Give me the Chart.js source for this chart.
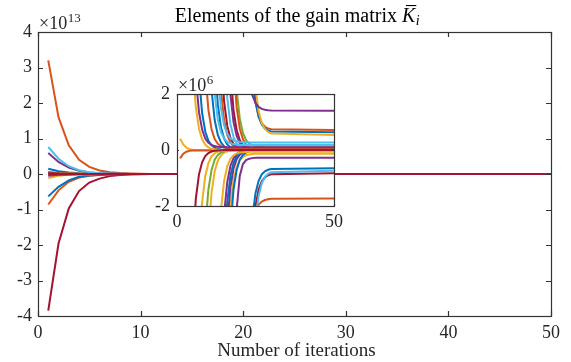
<!DOCTYPE html>
<html>
<head>
<meta charset="utf-8">
<script src="https://cdn.jsdelivr.net/npm/chart.js@4.4.1/dist/chart.umd.min.js"></script>
<style>
  html, body { margin: 0; padding: 0; background: #fff; }
  #wrap { position: relative; width: 571px; height: 362px; }
  #mainChart { position: absolute; left: 0; top: 0; }
  #insetChart { position: absolute; left: 150px; top: 66px; }
</style>
</head>
<body>
<div id="wrap">
  <canvas id="mainChart" width="571" height="362"></canvas>
  <canvas id="insetChart" width="200" height="164"></canvas>
</div>
<script>
// iterations (x) and the gain elements, all values in units of 10^6
const iterations = [1,2,3,4,5,6,7,8,9,10,11,12,13,14,15,16,17,18,19,20,21,22,23,24,25,26,27,28,29,30,50];

const k01 = [48.5,24.2,12.1,6.06,3.03,1.52,0.76,0.38,0.19,0.095,0.048,0.024,0.012,0.006,0,0,0,0,0,0,0,0,0,0,0,0,0,0,0,0,0];
const k02 = [80.1,40.1,20.1,10.1,5.1,2.6,1.35,0.73,0.41,0.26,0.18,0.14,0.12,0.11,0.105,0.1,0.1,0.1,0.1,0.1,0.1,0.1,0.1,0.1,0.1,0.1,0.1,0.1,0.1,0.1,0.1];
const k03 = [169,84.4,42.2,21.1,10.6,5.28,2.64,1.32,0.66,0.33,0.165,0.083,0.041,0.021,0.01,0.005,0,0,0,0,0,0,0,0,0,0,0,0,0,0,0];
const k04 = [706,353,177,88,44,22,11.05,5.55,2.81,1.43,0.74,0.39,0.22,0.14,0.09,0.07,0.06,0.055,0.05,0.05,0.05,0.05,0.05,0.05,0.05,0.05,0.05,0.05,0.05,0.05,0.05];
const k05 = [2190,1100,548,274,137,68,34,17,8.6,4.3,2.14,1.07,0.54,0.27,0.13,0.067,0.033,0.017,0.008,0,0,0,0,0,0,0,0,0,0,0,0];
const k06 = [3730,1860,932,466,233,116,58,29.2,14.8,7.5,3.82,2.0,1.09,0.64,0.41,0.29,0.24,0.21,0.19,0.185,0.18,0.18,0.18,0.18,0.18,0.18,0.18,0.18,0.18,0.18,0.18];
const k07 = [6660,3330,1660,832,416,208,104,52,26,13,6.5,3.25,1.62,0.81,0.41,0.2,0.1,0.05,0.025,0.013,0.006,0,0,0,0,0,0,0,0,0,0];
const k08 = [10000,5020,2510,1250,627,314,157,78,39.3,19.9,10.1,5.17,2.72,1.49,0.88,0.58,0.42,0.35,0.31,0.29,0.28,0.275,0.27,0.27,0.27,0.27,0.27,0.27,0.27,0.27,0.27];
const k09 = [17500,8770,4380,2190,1100,548,274,137,68,34,17,8.6,4.3,2.14,1.07,0.54,0.27,0.13,0.067,0.033,0.017,0.008,0,0,0,0,0,0,0,0,0];
const k10 = [28500,14300,7130,3560,1780,891,446,223,111,56,28,14,7,3.48,1.74,0.87,0.44,0.22,0.11,0.054,0.027,0.014,0.007,0,0,0,0,0,0,0,0];
const k11 = [7600000,4300000,2200000,1050000,500000,240000,117000,58000,29000,7000,1700,400,60,9,3.73,1.87,0.93,0.47,0.23,0.12,0.06,0.03,0.015,0.007,0,0,0,0,0,0,0];
const k12 = [131000,65500,32800,16400,8190,4100,2050,1020,512,256,128,64,32,16,8,4,2,1,0.5,0.25,0.125,0.063,0.031,0.016,0.008,0,0,0,0,0,0];
const k13 = [185000,92700,46300,23200,11600,5790,2900,1450,724,362,181,90,45,22.6,11.3,5.66,2.83,1.41,0.71,0.35,0.18,0.088,0.044,0.022,0.011,0.005,0,0,0,0,0];
const k14 = [397000,199000,99300,49700,24800,12400,6210,3100,1550,776,388,194,97,48.5,24.3,12.1,6.06,3.03,1.52,0.76,0.38,0.19,0.095,0.047,0.024,0.012,0.006,0,0,0,0];
const k15 = [534000,267000,133000,66700,33400,16700,8340,4170,2080,1040,521,261,130,65,32.7,16.4,8.2,4.17,2.14,1.12,0.61,0.35,0.23,0.164,0.132,0.116,0.108,0.1,0.1,0.1,0.1];
const k16 = [5900000,3400000,1800000,900000,440000,200000,95000,42000,18300,9170,4590,2290,1150,574,288,144,73.4,37.4,19.4,10.4,5.88,3.64,2.52,1.96,1.68,1.54,1.47,1.435,1.418,1.409,1.4];
const k17 = [400000,240000,144000,86400,51800,31100,18700,11200,6720,4030,2420,1450,871,523,314,188,113,68.2,41.1,24.9,15.1,9.3,5.84,3.89,2.22,1.38,0.96,0.75,0.645,0.593,0.54];
const k18 = [32000000,16000000,8100000,4000000,2000000,1000000,500000,250000,125000,62000,31000,15500,7700,3850,1900,950,470,230,114,56.7,24.7,10.2,4.63,2.67,1.69,1.2,0.955,0.83,0.771,0.741,0.71];
const k19 = [1500000,800000,400000,200000,113000,64000,36000,20500,11600,6550,3700,2090,1180,667,377,213,120,68.6,39.1,22.3,12.9,7.5,4.53,2.85,1.74,1.19,0.91,0.77,0.70,0.665,0.63];
const k20 = [-56,-28,-14,-7,-3.48,-1.74,-0.87,-0.44,-0.22,-0.11,-0.054,-0.027,-0.014,-0.007,0,0,0,0,0,0,0,0,0,0,0,0,0,0,0,0,0];
const k21 = [-239,-120,-60,-30,-15,-7.5,-3.73,-1.87,-0.93,-0.47,-0.23,-0.12,-0.058,-0.029,-0.015,-0.007,0,0,0,0,0,0,0,0,0,0,0,0,0,0,0];
const k22 = [-724,-362,-181,-90,-45,-22.6,-11.3,-5.66,-2.83,-1.41,-0.71,-0.35,-0.18,-0.088,-0.044,-0.022,-0.011,-0.005,0,0,0,0,0,0,0,0,0,0,0,0,0];
const k23 = [-1550,-776,-388,-194,-97,-48.5,-24.3,-12.1,-6.06,-3.03,-1.52,-0.76,-0.38,-0.19,-0.095,-0.047,-0.024,-0.012,-0.006,0,0,0,0,0,0,0,0,0,0,0,0];
const k24 = [-17000,-8520,-4260,-2130,-1060,-532,-266,-133,-66.6,-33.3,-16.7,-8.4,-4.22,-2.14,-1.1,-0.58,-0.32,-0.19,-0.125,-0.092,-0.076,-0.068,-0.064,-0.06,-0.06,-0.06,-0.06,-0.06,-0.06,-0.06,-0.06];
const k25 = [-37600,-18800,-9410,-4700,-2350,-1180,-588,-294,-147,-73.5,-36.8,-18.4,-9.2,-4.6,-2.3,-1.15,-0.57,-0.29,-0.14,-0.072,-0.036,-0.018,-0.009,0,0,0,0,0,0,0,0];
const k26 = [-61100,-30600,-15300,-7640,-3820,-1910,-955,-478,-239,-120,-60,-30,-15,-7.5,-3.73,-1.87,-0.93,-0.47,-0.23,-0.12,-0.058,-0.029,-0.015,-0.007,0,0,0,0,0,0,0];
const k27 = [-86500,-43200,-21600,-10800,-5400,-2700,-1350,-676,-338,-169,-84.4,-42.2,-21.1,-10.6,-5.28,-2.64,-1.32,-0.66,-0.33,-0.165,-0.083,-0.041,-0.021,-0.01,-0.005,0,0,0,0,0,0];
const k28 = [-185000,-92700,-46300,-23200,-11600,-5790,-2900,-1450,-724,-362,-181,-90.5,-45.3,-22.6,-11.3,-5.66,-2.83,-1.41,-0.71,-0.35,-0.18,-0.088,-0.044,-0.022,-0.011,-0.005,0,0,0,0,0];
const k29 = [-483000,-242000,-121000,-60400,-30200,-15100,-7550,-3780,-1890,-944,-472,-236,-118,-59.3,-29.8,-15,-6.5,-3.5,-2.12,-0.92,-0.5,-0.36,-0.31,-0.29,-0.28,-0.28,-0.28,-0.28,-0.28,-0.28,-0.28];
const k30 = [-6300000,-3600000,-1800000,-800000,-400000,-209000,-109000,-57100,-29900,-15600,-8170,-4270,-2230,-1170,-612,-321,-168,-88.1,-46.4,-24.6,-13.2,-7.19,-4.07,-2.43,-1.54,-1.1,-0.87,-0.76,-0.706,-0.678,-0.65];
const k31 = [-300000,-180000,-108000,-64800,-38900,-23300,-14000,-8400,-5040,-3020,-1810,-1090,-653,-392,-235,-141,-84.6,-50.8,-30.5,-19,-11.7,-8.2,-5.9,-4.3,-2.52,-1.63,-1.185,-0.96,-0.85,-0.796,-0.74];
const k32 = [-38500000,-19600000,-9700000,-4800000,-2400000,-1300000,-600000,-300000,-144000,-69100,-33200,-15900,-7640,-3670,-1760,-846,-407,-196,-94.2,-45.6,-22.3,-11.1,-5.79,-3.21,-2.0,-1.415,-1.12,-0.976,-0.903,-0.867,-0.83];
const k33 = [-8600000,-4600000,-2200000,-1000000,-500000,-250000,-125000,-62500,-31200,-15600,-7810,-3910,-1950,-979,-490,-246,-124,-62.7,-32.2,-17,-9.36,-5.54,-3.64,-2.68,-2.17,-1.95,-1.84,-1.785,-1.757,-1.744,-1.73];
const k34 = [-1100000,-480000,-209000,-91200,-39800,-17400,-7570,-3300,-1440,-629,-274,-120,-52.3,-22.9,-10.1,-4.46,-2.0,-1.07,-0.6,-0.36,-0.247,-0.188,-0.159,-0.145,-0.137,-0.134,-0.13,-0.13,-0.13,-0.13,-0.13];
const k35 = [-0.3,-0.13,-0.06,-0.03,-0.022,-0.02,-0.02,-0.02,-0.02,-0.02,-0.02,-0.02,-0.02,-0.02,-0.02,-0.02,-0.02,-0.02,-0.02,-0.02,-0.02,-0.02,-0.02,-0.02,-0.02,-0.02,-0.02,-0.02,-0.02,-0.02,-0.02];
const k36 = [0.4,0.2,0.08,0.03,0.01,0.004,0,0,0,0,0,0,0,0,0,0,0,0,0,0,0,0,0,0,0,0,0,0,0,0,0];

const mainTicksX = [0, 10, 20, 30, 40, 50];
const mainTicksY = [-4, -3, -2, -1, 0, 1, 2, 3, 4];   // x 10^13
const insetTicksX = [0, 50];
const insetTicksY = [-2, 0, 2];                        // x 10^6

// MATLAB default colour order
const BLUE = '#0072BD', ORANGE = '#D95319', YELLOW = '#EDB120', PURPLE = '#7E2F8E',
      GREEN = '#77AC30', LIGHTBLUE = '#4DBEEE', DARKRED = '#A2142F';

const gainSeries = [k20,k01,k02,k21,k03,k22,k04,k23,k05,k06,k07,k08,k09,k24,k10,k25,k26,k27,k12,k13,k28,k14,k15,k29,k34,k11,k16,k17,k19,k31,k30,k18,k33,k32,k35,k36];
const gainColors = [DARKRED,YELLOW,PURPLE,YELLOW,BLUE,GREEN,ORANGE,YELLOW,BLUE,LIGHTBLUE,BLUE,LIGHTBLUE,ORANGE,YELLOW,DARKRED,PURPLE,BLUE,PURPLE,PURPLE,DARKRED,BLUE,ORANGE,GREEN,PURPLE,YELLOW,LIGHTBLUE,PURPLE,YELLOW,BLUE,LIGHTBLUE,BLUE,ORANGE,ORANGE,DARKRED,ORANGE,YELLOW];

const FONT = '"Liberation Serif", "Times New Roman", serif';
const INK = '#262626';
const AXIS = '#333333';

function buildDatasets() {
  return gainSeries.map((vals, i) => ({
    data: vals.map((v, j) => ({ x: iterations[j], y: v })),
    borderColor: gainColors[i],
    borderWidth: 2,
    pointRadius: 0,
    tension: 0,
    fill: false,
    clip: 0
  }));
}

// axes box with inward ticks on all four sides
function boxPlugin(tickLen) {
  return {
    id: 'box',
    beforeDatasetsDraw(chart, args, opts) {
      if (!opts.white) return;
      const { ctx, chartArea: a } = chart;
      ctx.save();
      ctx.fillStyle = '#fff';
      ctx.fillRect(a.left, a.top, a.right - a.left, a.bottom - a.top);
      ctx.restore();
    },
    afterDatasetsDraw(chart) {
      const { ctx, chartArea: a, scales } = chart;
      const xs = scales.x, ys = scales.y;
      ctx.save();
      ctx.strokeStyle = AXIS;
      ctx.lineWidth = 1.2;
      ctx.beginPath();
      xs.ticks.forEach(t => {
        const p = Math.round(xs.getPixelForValue(t.value)) + 0.5;
        ctx.moveTo(p, a.bottom); ctx.lineTo(p, a.bottom - tickLen);
        ctx.moveTo(p, a.top); ctx.lineTo(p, a.top + tickLen);
      });
      ys.ticks.forEach(t => {
        const p = Math.round(ys.getPixelForValue(t.value)) + 0.5;
        ctx.moveTo(a.left, p); ctx.lineTo(a.left + tickLen, p);
        ctx.moveTo(a.right, p); ctx.lineTo(a.right - tickLen, p);
      });
      ctx.stroke();
      ctx.strokeRect(Math.round(a.left) + 0.5, Math.round(a.top) + 0.5,
        Math.round(a.right - a.left), Math.round(a.bottom - a.top));
      ctx.restore();
    }
  };
}

function drawPower(ctx, x, base, exp, size, supSize) {
  ctx.font = `${size}px ${FONT}`;
  ctx.textAlign = 'left';
  ctx.textBaseline = 'alphabetic';
  ctx.fillText('\u00d710', x, base);
  const w = ctx.measureText('\u00d710').width;
  ctx.font = `${supSize}px ${FONT}`;
  ctx.fillText(exp, x + w + 0.5, base - 7);
}

const mainText = {
  id: 'mainText',
  afterDraw(chart) {
    const { ctx, chartArea: a } = chart;
    const cx = (a.left + a.right) / 2;
    ctx.save();
    ctx.fillStyle = '#000';
    ctx.textBaseline = 'alphabetic';
    ctx.textAlign = 'left';
    // title
    const head = 'Elements of the gain matrix ';
    ctx.font = `20px ${FONT}`;
    const w1 = ctx.measureText(head).width;
    ctx.font = `italic 20px ${FONT}`;
    const wk = ctx.measureText('K').width;
    ctx.font = `italic 14px ${FONT}`;
    const wi = ctx.measureText('i').width;
    const x0 = cx + 3 - (w1 + wk + 1 + wi) / 2;
    const base = 22;
    ctx.font = `20px ${FONT}`;
    ctx.fillText(head, x0, base);
    ctx.font = `italic 20px ${FONT}`;
    ctx.fillText('K', x0 + w1, base);
    ctx.fillRect(x0 + w1 + 4, base - 17, wk - 3, 1.1);
    ctx.font = `italic 14px ${FONT}`;
    ctx.fillText('i', x0 + w1 + wk + 0.5, base + 3);
    // x label
    ctx.fillStyle = INK;
    ctx.font = `19px ${FONT}`;
    ctx.textAlign = 'center';
    ctx.fillText('Number of iterations', cx + 2, 356);
    // exponent
    drawPower(ctx, a.left + 1, 29, '13', 18, 13);
    ctx.restore();
  }
};

const insetText = {
  id: 'insetText',
  afterDraw(chart) {
    const { ctx, chartArea: a } = chart;
    ctx.save();
    ctx.fillStyle = INK;
    drawPower(ctx, a.left + 1, a.top - 3, '6', 18, 13);
    ctx.restore();
  }
};

function scaleOptions(min, max, fixedTicks, fmt, padding, fit) {
  return {
    type: 'linear',
    min: min, max: max,
    afterBuildTicks: s => { s.ticks = fixedTicks.map(v => ({ value: v })); },
    ticks: {
      autoSkip: false, maxRotation: 0, padding: padding,
      color: INK, font: { family: FONT, size: 18 },
      callback: fmt
    },
    grid: { display: false, drawTicks: false },
    border: { display: false },
    afterFit: fit
  };
}

new Chart(document.getElementById('mainChart'), {
  type: 'line',
  data: { datasets: buildDatasets() },
  options: {
    responsive: false,
    animation: false,
    events: [],
    layout: { padding: { left: 0, right: 20, top: 32, bottom: 0 } },
    plugins: { legend: { display: false }, tooltip: { enabled: false }, box: { white: false } },
    scales: {
      x: scaleOptions(0, 50, mainTicksX, v => String(v), 6, s => { s.height = 46; }),
      y: scaleOptions(-4e7, 4e7, mainTicksY.map(v => v * 1e7), v => String(Math.round(v / 1e7)), 6, s => { s.width = 38; })
    }
  },
  plugins: [boxPlugin(5), mainText]
});

new Chart(document.getElementById('insetChart'), {
  type: 'line',
  data: { datasets: buildDatasets() },
  options: {
    responsive: false,
    animation: false,
    events: [],
    layout: { padding: { left: 0, right: 16, top: 28, bottom: 0 } },
    plugins: { legend: { display: false }, tooltip: { enabled: false }, box: { white: true } },
    scales: {
      x: scaleOptions(0, 50, insetTicksX, v => String(v), 5, s => { s.height = 24; }),
      y: scaleOptions(-2, 2, insetTicksY, v => String(v), 7, s => { s.width = 27; })
    }
  },
  plugins: [boxPlugin(2), insetText]
});
</script>
</body>
</html>
